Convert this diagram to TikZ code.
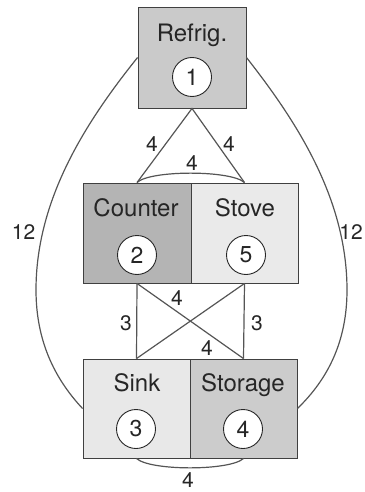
\documentclass[tikz,border=0pt]{standalone}
\usepackage{fontspec}
\setmainfont{TeX Gyre Heros}
\definecolor{refc}{HTML}{CACACA}
\definecolor{couc}{HTML}{B4B4B4}
\definecolor{stoc}{HTML}{EAEAEA}
\definecolor{sinc}{HTML}{E8E8E8}
\definecolor{storc}{HTML}{CCCCCC}
\definecolor{linec}{HTML}{555555}
\begin{document}
\begin{tikzpicture}[x=1pt,y=-1pt,
  room/.style={draw=black!75, line width=0.9pt, minimum width=107pt, minimum height=100pt, inner sep=0pt},
  ttl/.style={font=\fontsize{24}{28}\selectfont, text=black!85, inner sep=0pt, anchor=base},
  num/.style={circle, draw=black!85, line width=0.9pt, fill=white, minimum size=39pt, inner sep=0pt, font=\fontsize{23}{28}\selectfont, text=black!85},
  link/.style={draw=linec, line width=1.2pt},
  lbl/.style={font=\fontsize{21}{24}\selectfont, text=black!85, inner sep=0pt}]
\useasboundingbox (0,0) rectangle (364,492);
\path (192,57.5) node[room, minimum width=108pt, minimum height=101pt, fill=refc] (refrig) {};
\path (137,233) node[room, minimum width=108pt, fill=couc] (counter) {};
\path (244.5,233) node[room, fill=stoc] (stove) {};
\path (136.5,408.5) node[room, minimum height=99pt, fill=sinc] (sink) {};
\path (243.5,408.5) node[room, minimum height=99pt, fill=storc] (storage) {};

\node[ttl] (trefrig) at (192,41.5) {Refrig.};
\node[ttl] (tcounter) at (136,216.7) {Counter};
\node[ttl] (tstove) at (245,216.7) {Stove};
\node[ttl] (tsink) at (137,391.7) {Sink};
\node[ttl] (tstorage) at (243,391.7) {Storage};

\node[num] (n1) at (192,77) {1};
\node[num] (n2) at (137,255) {2};
\node[num] (n5) at (246,255) {5};
\node[num] (n3) at (136,429) {3};
\node[num] (n4) at (243,429) {4};

\coordinate (lm) at (36,290);
\coordinate (rm) at (347,290);

% triangle
\draw[link] (counter.north) -- (refrig.south) -- (stove.north);
\draw[link] (counter.north) .. controls (150,170) and (231,170) .. (stove.north);
% big arcs
\draw[link] (refrig.west) .. controls (85,123) and (36,200) .. (lm) .. controls (36,340) and (54,378) .. (sink.west);
\draw[link] (refrig.east) .. controls (298,123) and (347,200) .. (rm) .. controls (347,340) and (329,378) .. (storage.east);
% cross
\draw[link] (counter.south) -- (sink.north);
\draw[link] (stove.south) -- (storage.north);
\draw[link] (counter.south) -- (storage.north);
\draw[link] (stove.south) -- (sink.north);
% bottom arc
\draw[link] (sink.south) .. controls (150,471) and (230,471) .. (storage.south);

% labels
\node[lbl] (l1) at (152,144) {4};
\node[lbl] (l2) at (229,144) {4};
\node[lbl] (l3) at (192,163) {4};
\node[lbl] (l4) at (23.5,232) {12};
\node[lbl] (l5) at (351,232) {12};
\node[lbl] (l6) at (126,323) {3};
\node[lbl] (l7) at (257,323) {3};
\node[lbl] (l8) at (177,298) {4};
\node[lbl] (l9) at (207,348) {4};
\node[lbl] (l10) at (188,480.5) {4};
\end{tikzpicture}
\end{document}
